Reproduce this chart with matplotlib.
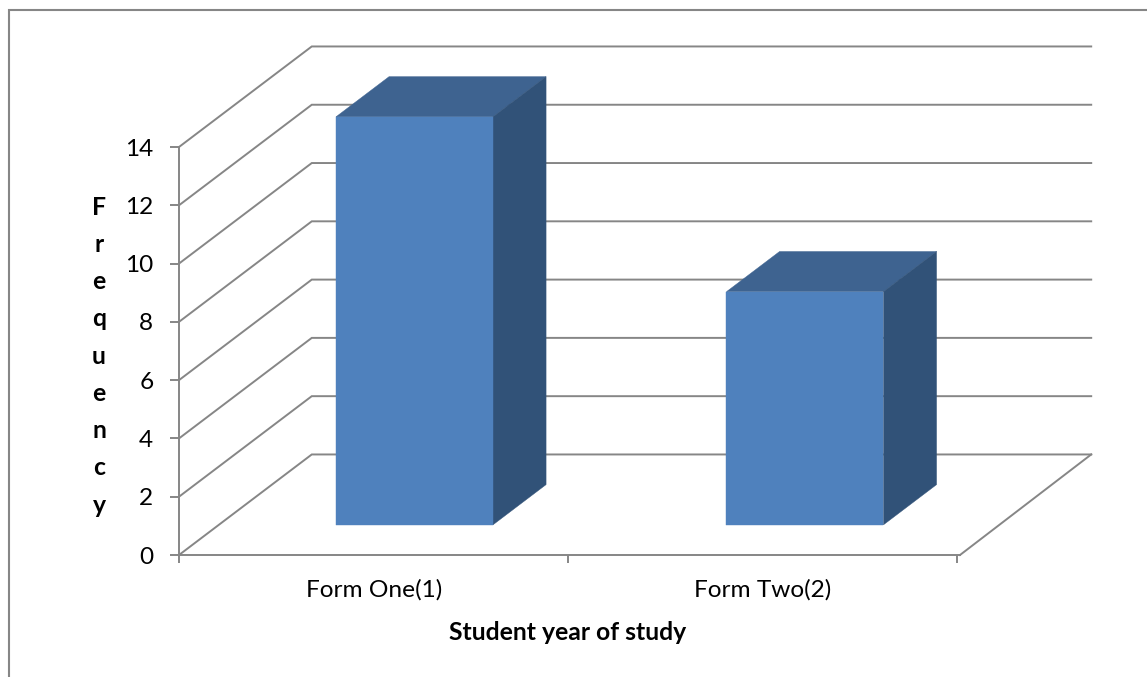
import numpy as np
import matplotlib.pyplot as plt
from matplotlib.lines import Line2D
from matplotlib.patches import Polygon

categories = ['Form One(1)', 'Form Two(2)']
frequency = [14, 8]
y_ticks = [0, 2, 4, 6, 8, 10, 12, 14]
x_ticks = [0, 0.997, 1.992]

W, H = 1147, 677
GRID = '#868686'
FRONT = '#4F81BD'
TOP = '#3E6390'
SIDE = '#315278'

# oblique depth of the chart box, in data units per unit of depth
DEPTH_X = 0.34
DEPTH_Y = 3.45
BAR_WIDTH = 0.402
BAR_NEAR, BAR_FAR = 0.3, 0.7
WALL_END = 1.996

plt.rcParams['font.family'] = ['Lato', 'DejaVu Sans']

fig = plt.figure(figsize=(W / 100, H / 100), dpi=100)
ax = fig.add_axes((179 / W, 1 - 555 / H, 781 / W, 408 / H))
ax.set_xlim(0, 2)
ax.set_ylim(0, 14)
ax.patch.set_visible(False)


def project(x, v, d):
    """Data position plus depth d (0 front, 1 back wall)."""
    return x + DEPTH_X * d, v + DEPTH_Y * d


def face(corners, color, z):
    pts = [project(*c) for c in corners]
    ax.add_patch(Polygon(pts, closed=True, facecolor=color, edgecolor=color,
                         linewidth=0.3, clip_on=False, zorder=z))


# wall gridlines and the left side wall
for v in y_ticks:
    xs, ys = zip(project(0, v, 0), project(0, v, 1), project(WALL_END, v, 1))
    ax.plot(xs, ys, color=GRID, lw=1.4, clip_on=False, zorder=1,
            solid_joinstyle='miter')

# right edge of the floor
xs, ys = zip(project(2, 0, 0), project(WALL_END, 0, 1))
ax.plot(xs, ys, color=GRID, lw=1.4, clip_on=False, zorder=1)

# 3D columns
for i, val in enumerate(frequency):
    x0 = i + 0.501 - BAR_WIDTH / 2
    x1 = i + 0.501 + BAR_WIDTH / 2
    face([(x0, val, BAR_NEAR), (x1, val, BAR_NEAR),
          (x1, val, BAR_FAR), (x0, val, BAR_FAR)], TOP, 3)
    face([(x1, 0, BAR_NEAR), (x1, val, BAR_NEAR),
          (x1, val, BAR_FAR), (x1, 0, BAR_FAR)], SIDE, 3)
    face([(x0, 0, BAR_NEAR), (x1, 0, BAR_NEAR),
          (x1, val, BAR_NEAR), (x0, val, BAR_NEAR)], FRONT, 4)

for s in ['top', 'right']:
    ax.spines[s].set_visible(False)
for s in ['left', 'bottom']:
    ax.spines[s].set_color(GRID)
    ax.spines[s].set_linewidth(1.4)

ax.set_yticks(y_ticks)
ax.set_xticks(x_ticks)
ax.set_xticklabels([])
ax.set_xticks((np.array(x_ticks[:-1]) + np.array(x_ticks[1:])) / 2, minor=True)
ax.set_xticklabels(categories, minor=True, fontsize=17.6, color='black')
ax.tick_params(axis='x', which='minor', length=0, pad=17)
ax.tick_params(axis='x', which='major', length=6, width=1.4, color=GRID)
ax.tick_params(axis='y', length=6.5, width=1.4, color=GRID, pad=12,
               labelsize=17.6, labelcolor='black')

ax.set_xlabel('Student year of study', fontsize=17.8, fontweight='bold')
ax.xaxis.set_label_coords((567.5 - 179) / 781, -(632 - 555) / 408)
ax.xaxis.label.set_verticalalignment('center')

ax.set_ylabel('\n'.join('Frequency'), fontsize=17.8, fontweight='bold',
              rotation=0, linespacing=1.75, ha='center', va='center')
ax.yaxis.set_label_coords((99 - 179) / 781, (555 - 356) / 408)

# chart frame, top and left edges only
fig.add_artist(Line2D([9 / W, 9 / W, 1], [0, 1 - 10 / H, 1 - 10 / H],
                      transform=fig.transFigure, color=GRID, lw=1.5,
                      solid_joinstyle='miter', zorder=0))

fig.savefig('out.png', dpi=100)
